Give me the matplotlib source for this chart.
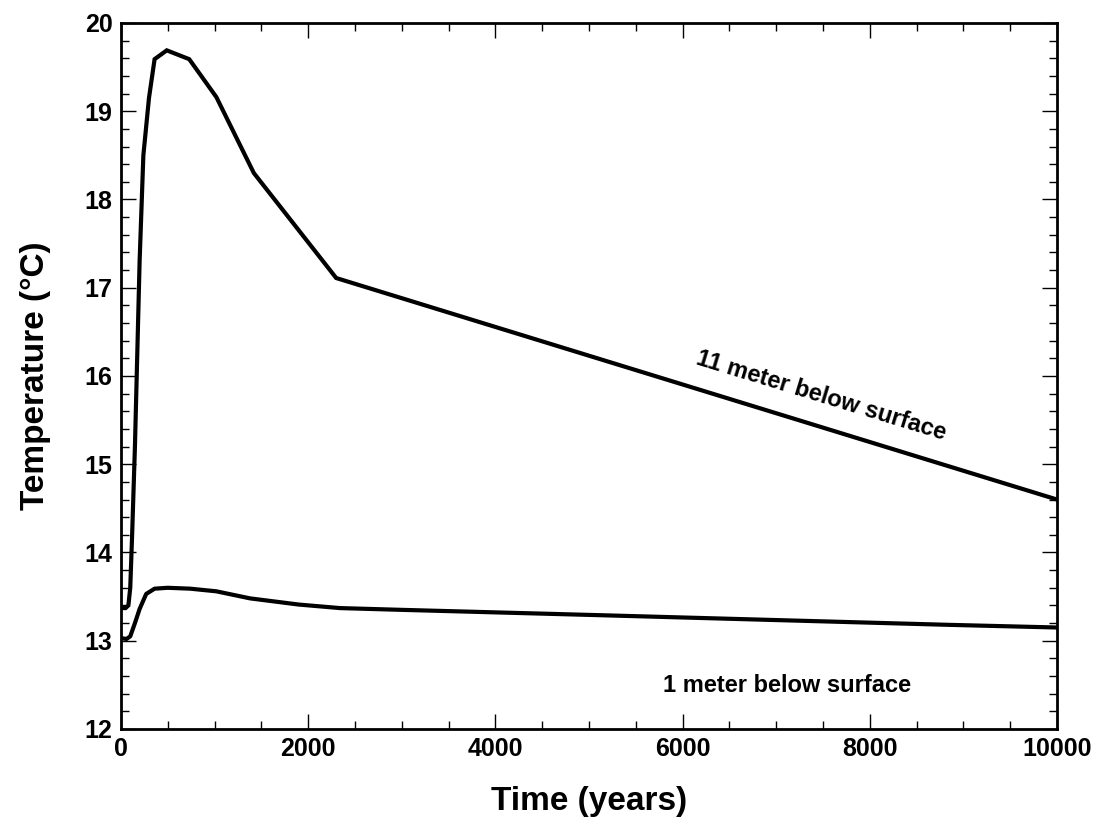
import matplotlib
matplotlib.use("Agg")
import matplotlib.pyplot as plt
from matplotlib.ticker import MultipleLocator

# Data
t_11m = [0, 50, 80, 100, 120, 150, 200, 240, 300, 360, 490, 730, 1020, 1420, 2300, 10000]
temp_11m = [13.37, 13.37, 13.40, 13.60, 14.20, 15.20, 17.30, 18.50, 19.15, 19.59, 19.69,
            19.59, 19.16, 18.30, 17.11, 14.60]

t_1m = [0, 60, 100, 150, 200, 270, 360, 500, 740, 1020, 1380, 1900, 2340, 3000, 5100, 8850, 10000]
temp_1m = [13.03, 13.02, 13.05, 13.20, 13.36, 13.53, 13.59, 13.60, 13.59, 13.56, 13.48,
           13.41, 13.37, 13.35, 13.29, 13.18, 13.15]

label_11m = "11 meter below surface"
label_1m = "1 meter below surface"
x_ticks = [0, 2000, 4000, 6000, 8000, 10000]
y_ticks = [12, 13, 14, 15, 16, 17, 18, 19, 20]

plt.rcParams['font.family'] = ['Liberation Sans', 'DejaVu Sans']
plt.rcParams['font.weight'] = 'bold'

fig = plt.figure(figsize=(10.99, 8.30), dpi=100)
ax = fig.add_axes([0.110, 0.1217, 0.8518, 0.8506])

ax.plot(t_11m, temp_11m, color='black', lw=3.0, solid_joinstyle='miter')
ax.plot(t_1m, temp_1m, color='black', lw=3.0)

ax.set_xlim(0, 10000)
ax.set_ylim(12, 20)
ax.set_xticks(x_ticks)
ax.set_yticks(y_ticks)
ax.xaxis.set_minor_locator(MultipleLocator(500))
ax.yaxis.set_minor_locator(MultipleLocator(0.2))

ax.tick_params(which='both', direction='in', top=True, right=True, width=1.0)
ax.tick_params(which='major', length=11, labelsize=18, pad=6)
ax.tick_params(which='minor', length=5.5)
for lab in ax.get_xticklabels() + ax.get_yticklabels():
    lab.set_fontweight('bold')
for sp in ax.spines.values():
    sp.set_linewidth(2.0)

ax.set_xlabel("Time (years)", fontsize=24, fontweight='bold', labelpad=18)
ax.set_ylabel("Temperature (\u00b0C)", fontsize=24, fontweight='bold', labelpad=24)

ax.text(7479, 15.78, label_11m, rotation=-17, fontsize=17, fontweight='bold',
        ha='center', va='center', rotation_mode='anchor')
ax.text(7115, 12.49, label_1m, fontsize=17, fontweight='bold', ha='center', va='center')

fig.savefig("out.png", dpi=100)
